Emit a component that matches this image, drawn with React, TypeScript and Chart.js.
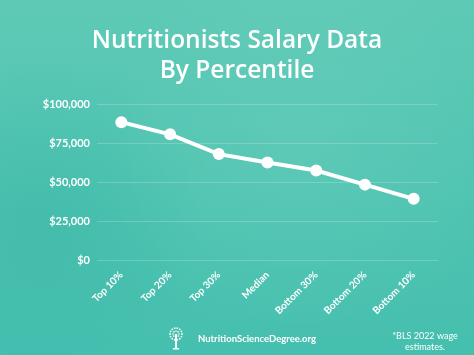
import { useEffect, useRef } from 'react';
import { Chart, registerables } from 'chart.js';

Chart.register(...registerables);

const categories = ['Top 10%', 'Top 20%', 'Top 30%', 'Median', 'Bottom 30%', 'Bottom 20%', 'Bottom 10%'];
const salaries = [88500, 80700, 68000, 62600, 57500, 48400, 39300];
const yTickValues = [0, 25000, 50000, 75000, 100000];
const titleLines = ['Nutritionists Salary Data', 'By Percentile'];
const sourceName = 'NutritionScienceDegree.org';
const footnoteLines = ['*BLS 2022 wage', 'estimates.'];

const FONT = 'Lato, "Open Sans", sans-serif';
const TITLE_FONT = '"Open Sans", Lato, sans-serif';

const backgroundPlugin = {
  id: 'bgPlugin',
  beforeDraw(chart: any) {
    const { ctx, width, height } = chart;
    ctx.save();
    const g = ctx.createLinearGradient(0, 0, 0, height);
    g.addColorStop(0, '#5ecab6');
    g.addColorStop(0.45, '#52c5b2');
    g.addColorStop(1, '#45bfaf');
    ctx.fillStyle = g;
    ctx.fillRect(0, 0, width, height);
    const r = ctx.createRadialGradient(300, 150, 10, 300, 150, 200);
    r.addColorStop(0, 'rgba(255,255,255,0.06)');
    r.addColorStop(1, 'rgba(255,255,255,0)');
    ctx.fillStyle = r;
    ctx.fillRect(0, 0, width, height);
    const l = ctx.createRadialGradient(40, 220, 10, 40, 220, 160);
    l.addColorStop(0, 'rgba(40,170,160,0.25)');
    l.addColorStop(1, 'rgba(40,170,160,0)');
    ctx.fillStyle = l;
    ctx.fillRect(0, 0, width, height);
    ctx.restore();
  },
};

const footerPlugin = {
  id: 'footerPlugin',
  afterDraw(chart: any) {
    const { ctx } = chart;
    ctx.save();
    ctx.fillStyle = '#ffffff';
    const cx = 176;
    const cy = 334;
    for (let i = 0; i < 14; i++) {
      const a = (i / 14) * Math.PI * 2;
      ctx.beginPath();
      ctx.arc(cx + Math.cos(a) * 6, cy + Math.sin(a) * 6, 0.9, 0, Math.PI * 2);
      ctx.fill();
    }
    for (let i = 0; i < 8; i++) {
      const a = (i / 8) * Math.PI * 2;
      ctx.beginPath();
      ctx.arc(cx + Math.cos(a) * 3, cy + Math.sin(a) * 3, 0.8, 0, Math.PI * 2);
      ctx.fill();
    }
    ctx.fillRect(cx - 1, cy, 2, 15);
    ctx.fillRect(cx - 3, cy + 14, 6, 1.5);

    ctx.font = `bold 9.5px ${FONT}`;
    ctx.textAlign = 'left';
    ctx.textBaseline = 'middle';
    ctx.fillText(sourceName, 198, 339);

    ctx.font = `9px ${FONT}`;
    ctx.textAlign = 'center';
    ctx.fillText(footnoteLines[0], 425, 336);
    ctx.fillText(footnoteLines[1], 425, 347);
    ctx.restore();
  },
};

export default function App() {
  const ref = useRef<HTMLCanvasElement | null>(null);

  useEffect(() => {
    if (!ref.current) return;
    const chart = new Chart(ref.current, {
      type: 'line',
      data: {
        labels: categories,
        datasets: [
          {
            data: salaries,
            borderColor: '#ffffff',
            backgroundColor: '#ffffff',
            borderWidth: 4,
            pointRadius: 6,
            pointBackgroundColor: '#ffffff',
            pointBorderWidth: 0,
            tension: 0,
          },
        ],
      },
      options: {
        responsive: false,
        animation: false,
        layout: { padding: { left: 36, right: 36, top: 0, bottom: 0 } },
        plugins: {
          legend: { display: false },
          tooltip: { enabled: false },
          title: {
            display: true,
            text: titleLines,
            color: '#ffffff',
            font: { family: TITLE_FONT, size: 24.5, weight: '600', lineHeight: 1.23 },
            padding: { top: 26, bottom: 18 },
          },
        },
        scales: {
          x: {
            offset: true,
            grid: { display: false, drawTicks: false },
            border: { display: false },
            ticks: {
              color: '#ffffff',
              font: { family: FONT, size: 10, weight: 'bold' },
              minRotation: 45,
              maxRotation: 45,
              padding: 9,
            },
            afterFit(scale: any) {
              scale.height = 95;
            },
          },
          y: {
            min: 0,
            max: 100000,
            afterBuildTicks(scale: any) {
              scale.ticks = yTickValues.map((v) => ({ value: v }));
            },
            grid: { color: 'rgba(255,255,255,0.2)', drawTicks: false, lineWidth: 1 },
            border: { display: false },
            ticks: {
              color: '#ffffff',
              font: { family: FONT, size: 11, weight: 'bold' },
              padding: 7,
              callback: (v: any) => '$' + Number(v).toLocaleString('en-US'),
            },
            afterFit(scale: any) {
              scale.width = 61;
            },
          },
        },
      },
      plugins: [backgroundPlugin, footerPlugin],
    } as any);
    return () => chart.destroy();
  }, []);

  return (
    <div style={{ position: 'fixed', left: 0, top: 0, width: 474, height: 355 }}>
      <canvas ref={ref} width={474} height={355} style={{ display: 'block' }} />
    </div>
  );
}
